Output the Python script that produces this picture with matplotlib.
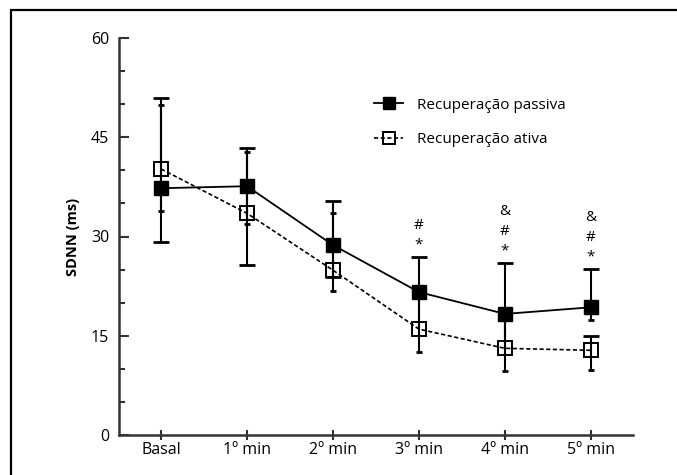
import numpy as np
import matplotlib
matplotlib.use("Agg")
import matplotlib.pyplot as plt
from matplotlib.patches import Rectangle
from matplotlib.ticker import MultipleLocator

plt.rcParams['font.family'] = ['Open Sans', 'DejaVu Sans']

# dados
categorias = ['Basal', '1º min', '2º min', '3º min', '4º min', '5º min']
passiva = [37.3, 37.6, 28.7, 21.6, 18.3, 19.3]
ativa = [40.2, 33.5, 24.9, 16.0, 13.1, 12.8]
passiva_sup = [49.8, 42.7, 33.5, 21.6, 18.3, 25.1]
passiva_inf = [33.9, 31.9, 21.8, 12.5, 9.7, 17.4]
ativa_sup = [51.0, 43.4, 35.4, 26.9, 26.0, 15.0]
ativa_inf = [29.1, 25.7, 23.9, 16.0, 13.1, 9.8]
# tamanho das barrinhas (0 = escondida, 1 = pequena, 2 = grande)
cap_passiva_sup = [1, 1, 1, 0, 0, 2]
cap_passiva_inf = [1, 1, 1, 1, 1, 1]
cap_ativa_sup = [2, 2, 2, 2, 2, 2]
cap_ativa_inf = [2, 2, 2, 0, 0, 1]
signif = ['', '', '', '#\n*', '&\n#\n*', '&\n#\n*']

fig = plt.figure(figsize=(6.77, 4.75), dpi=100)
ax = fig.add_axes([119/677, 1-435/475, (633-119)/677, (435-38)/475])

x = np.arange(len(categorias))
tam_cap = {1: 4.5, 2: 11}

def barras(y, sup, inf, csup, cinf):
    y = np.array(y); sup = np.array(sup); inf = np.array(inf)
    ax.errorbar(x, y, yerr=[y - inf, sup - y], fmt='none', ecolor='black',
                elinewidth=1.5, capsize=0, zorder=2)
    for vals, caps in ((sup, csup), (inf, cinf)):
        for k in (1, 2):
            sel = np.array(caps) == k
            ax.plot(x[sel], vals[sel], ls='none', marker='_', color='black',
                    markersize=tam_cap[k], markeredgewidth=2, zorder=2)

barras(passiva, passiva_sup, passiva_inf, cap_passiva_sup, cap_passiva_inf)
barras(ativa, ativa_sup, ativa_inf, cap_ativa_sup, cap_ativa_inf)

ax.plot(x, passiva, color='black', lw=1.3, marker='s', markersize=10,
        markerfacecolor='black', markeredgecolor='black', zorder=3,
        label='Recuperação passiva')
ax.plot(x, ativa, color='black', lw=1.2, ls=(0, (2.5, 1.5)), marker='s',
        markersize=10, markerfacecolor='none', markeredgecolor='black',
        markeredgewidth=1.4, zorder=3, label='Recuperação ativa')

topo = np.maximum(np.array(passiva_sup), np.array(ativa_sup))
for i, s in enumerate(signif):
    if s:
        ax.annotate(s, (x[i], topo[i]), xytext=(0, 3), textcoords='offset points',
                    ha='center', va='bottom', fontsize=11, linespacing=1.45)

ax.set_xlim(-0.49, 5.49)
ax.set_ylim(0, 60)
ax.set_xticks(x)
ax.set_xticklabels(categorias, fontsize=11.5)
ax.yaxis.set_major_locator(MultipleLocator(15))
ax.yaxis.set_minor_locator(MultipleLocator(5))
ax.tick_params(axis='y', which='major', direction='in', length=7.5, width=1.5,
               color='#333333', labelsize=11.5, pad=7)
ax.tick_params(axis='y', which='minor', direction='in', length=4.5, width=1.5,
               color='#333333')
ax.tick_params(axis='x', direction='inout', length=7, width=1.5, color='#333333',
               labelsize=11.5, pad=1.5)
for lado in ('top', 'right'):
    ax.spines[lado].set_visible(False)
for lado in ('left', 'bottom'):
    ax.spines[lado].set_linewidth(1.8)
    ax.spines[lado].set_color('#333333')
ax.set_ylabel('SDNN (ms)', fontsize=10.5, fontweight='bold', labelpad=8)

ax.legend(loc='upper left', bbox_to_anchor=((374-119)/514, 0.85), frameon=False,
          borderaxespad=0, borderpad=0, handlelength=1.9, handletextpad=0.9,
          labelspacing=1.3, markerscale=0.85, fontsize=11)

fig.patches.append(Rectangle((11/677, -0.1), 1.2, 1.1 - 10/475, transform=fig.transFigure,
                             fill=False, edgecolor='black', lw=1.6, clip_on=False))

fig.savefig('out.png', dpi=100)
